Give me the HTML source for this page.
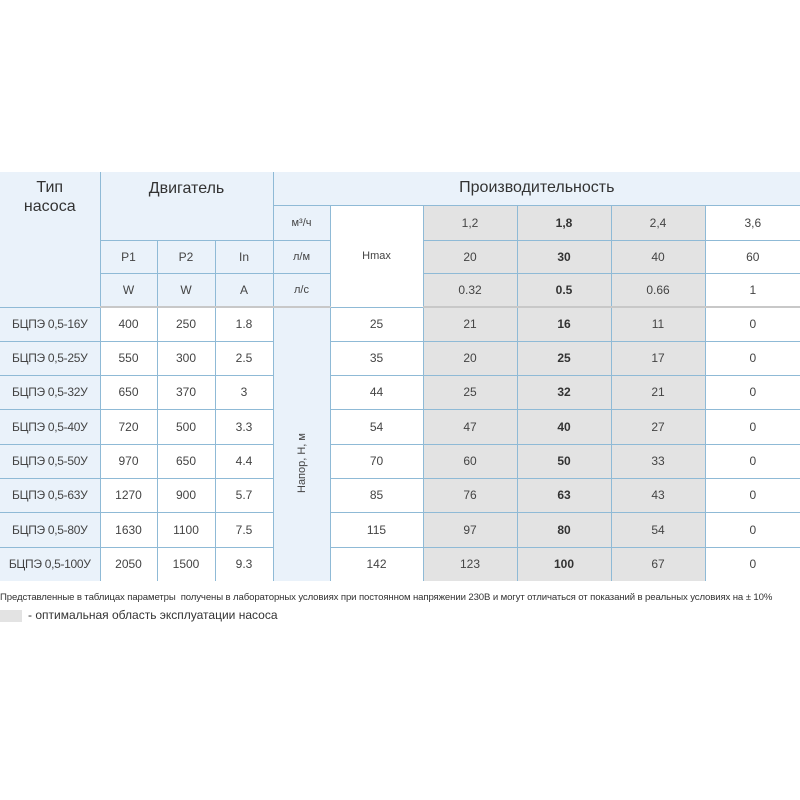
<!DOCTYPE html>
<html><head><meta charset="utf-8"><style>
body{margin:0;background:#fff;width:800px;height:800px;position:relative;overflow:hidden;font-family:"Liberation Sans","DejaVu Sans",sans-serif;color:#444}
table{position:absolute;left:0;top:172px;width:800px;border-collapse:collapse;table-layout:fixed}
td{border:1px solid #8fbad6;text-align:center;vertical-align:middle;font-size:12px;padding:0;color:#444}
tr>td:first-child{border-left:none}
tr>td:last-child{border-right:none}
.lb{background:#eaf2fa}
.g{background:#e3e3e3}
.b{font-weight:bold;color:#333}
.h{font-size:16px;color:#333}
.top{vertical-align:top;padding-top:6px}
.hdr td{border-bottom:2px solid #c8c8c8}
.ab{border-bottom:none}
.t{letter-spacing:-0.3px}
</style></head><body>
<table>
<colgroup><col style="width:100px"><col style="width:57px"><col style="width:58px"><col style="width:58px"><col style="width:57px"><col style="width:93px"><col style="width:94px"><col style="width:94px"><col style="width:94px"><col style="width:95px"></colgroup>
<tr style="height:33px"><td class="lb h top" rowspan="4" style="border-top:none;line-height:19px;padding-top:6px">Тип<br>насоса</td><td class="lb h top" colspan="3" rowspan="2" style="border-top:none;border-bottom:none;padding-top:8px">Двигатель</td><td class="lb h" colspan="6" style="border-top:none;border-right:none">Производительность</td></tr>
<tr style="height:35px"><td class="lb" style="font-size:11px">м³/ч</td><td rowspan="3" style="font-size:11px">Hmax</td><td class="g">1,2</td><td class="g b">1,8</td><td class="g">2,4</td><td>3,6</td></tr>
<tr style="height:33px"><td class="lb">P1</td><td class="lb">P2</td><td class="lb">In</td><td class="lb" style="font-size:11px">л/м</td><td class="g">20</td><td class="g b">30</td><td class="g">40</td><td>60</td></tr>
<tr style="height:34px" class="hdr"><td class="lb">W</td><td class="lb">W</td><td class="lb">A</td><td class="lb" style="font-size:11px">л/с</td><td class="g">0.32</td><td class="g b">0.5</td><td class="g">0.66</td><td>1</td></tr>
<tr style="height:34px"><td class="lb t">БЦПЭ 0,5-16У</td><td>400</td><td>250</td><td>1.8</td><td class="lb" rowspan="8" style="border-bottom:none"><div style="transform:rotate(-90deg);white-space:nowrap;font-size:11px;margin-top:40px">Напор, Н, м</div></td><td>25</td><td class="g">21</td><td class="g b">16</td><td class="g">11</td><td>0</td></tr>
<tr style="height:34px"><td class="lb t">БЦПЭ 0,5-25У</td><td>550</td><td>300</td><td>2.5</td><td>35</td><td class="g">20</td><td class="g b">25</td><td class="g">17</td><td>0</td></tr>
<tr style="height:34px"><td class="lb t">БЦПЭ 0,5-32У</td><td>650</td><td>370</td><td>3</td><td>44</td><td class="g">25</td><td class="g b">32</td><td class="g">21</td><td>0</td></tr>
<tr style="height:35px"><td class="lb t">БЦПЭ 0,5-40У</td><td>720</td><td>500</td><td>3.3</td><td>54</td><td class="g">47</td><td class="g b">40</td><td class="g">27</td><td>0</td></tr>
<tr style="height:34px"><td class="lb t">БЦПЭ 0,5-50У</td><td>970</td><td>650</td><td>4.4</td><td>70</td><td class="g">60</td><td class="g b">50</td><td class="g">33</td><td>0</td></tr>
<tr style="height:34px"><td class="lb t">БЦПЭ 0,5-63У</td><td>1270</td><td>900</td><td>5.7</td><td>85</td><td class="g">76</td><td class="g b">63</td><td class="g">43</td><td>0</td></tr>
<tr style="height:35px"><td class="lb t">БЦПЭ 0,5-80У</td><td>1630</td><td>1100</td><td>7.5</td><td>115</td><td class="g">97</td><td class="g b">80</td><td class="g">54</td><td>0</td></tr>
<tr style="height:34px"><td class="lb ab t">БЦПЭ 0,5-100У</td><td class="ab">2050</td><td class="ab">1500</td><td class="ab">9.3</td><td class="ab">142</td><td class="g ab">123</td><td class="g b ab">100</td><td class="g ab">67</td><td class="ab">0</td></tr>
</table>
<div style="position:absolute;left:0;top:592px;width:800px;font-size:9.6px;letter-spacing:-0.12px;white-space:nowrap;color:#333">Представленные в таблицах параметры &nbsp;получены в лабораторных условиях при постоянном напряжении 230В и могут отличаться от показаний в реальных условиях на ± 10%</div>
<div style="position:absolute;left:0;top:610px;width:22px;height:12px;background:#e3e3e3"></div>
<div style="position:absolute;left:28px;top:608px;font-size:12px;color:#333;white-space:nowrap">- оптимальная область эксплуатации насоса</div>
</body></html>
